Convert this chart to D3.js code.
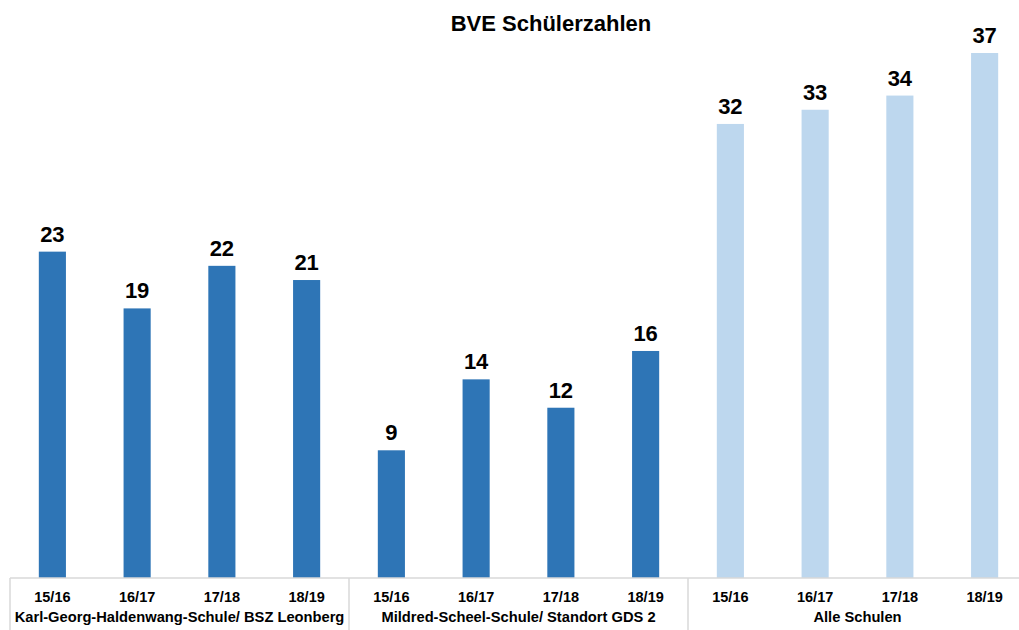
<!DOCTYPE html>
<html lang="de">
<head>
<meta charset="utf-8">
<title>BVE Schülerzahlen</title>
<script src="https://d3js.org/d3.v7.min.js"></script>
<style>
  body { margin: 0; background: #fff; }
  text { font-family: "Liberation Sans", Arial, sans-serif; font-weight: bold; fill: #000; }
</style>
</head>
<body>
<svg width="1019" height="630"></svg>
<script>
    // data
    const schools = ["Karl-Georg-Haldenwang-Schule/ BSZ Leonberg", "Mildred-Scheel-Schule/ Standort GDS 2", "Alle Schulen"];
    const years = ["15/16", "16/17", "17/18", "18/19"];
    const khs = [23, 19, 22, 21];
    const mss = [9, 14, 12, 16];
    const alle = [32, 33, 34, 37];
    const barColors = ["#2e75b6", "#2e75b6", "#bdd7ee"];

    const series = [khs, mss, alle];

    const svg = d3.select("svg");
    const baseY = 578;

    const x0 = d3.scaleBand().domain(schools).range([10, 1027]);
    const x1 = d3.scaleBand().domain(years).range([0, x0.bandwidth()]).paddingInner(0.68).paddingOuter(0.34);
    const y = d3.scaleLinear().domain([0, 37]).range([baseY, 53]);

    // title
    svg.append("text")
        .attr("x", 551)
        .attr("y", 31)
        .attr("text-anchor", "middle")
        .style("font-size", "22px")
        .text("BVE Schülerzahlen");

    const groups = svg.selectAll(".grp")
        .data(schools)
        .enter().append("g")
        .attr("class", "grp")
        .attr("transform", d => "translate(" + x0(d) + ",0)");

    groups.each(function (s, gi) {
        const g = d3.select(this);
        const vals = series[gi].map((v, i) => ({year: years[i], value: v}));

        g.selectAll("rect")
            .data(vals)
            .enter().append("rect")
            .attr("x", d => x1(d.year))
            .attr("width", x1.bandwidth())
            .attr("y", d => y(d.value))
            .attr("height", d => baseY - y(d.value))
            .attr("fill", barColors[gi]);

        g.selectAll(".val")
            .data(vals)
            .enter().append("text")
            .attr("class", "val")
            .attr("x", d => x1(d.year) + x1.bandwidth() / 2)
            .attr("y", d => y(d.value) - 10)
            .attr("text-anchor", "middle")
            .style("font-size", "22px")
            .text(d => d.value);

        g.selectAll(".yr")
            .data(years)
            .enter().append("text")
            .attr("class", "yr")
            .attr("x", d => x1(d) + x1.bandwidth() / 2)
            .attr("y", 602)
            .attr("text-anchor", "middle")
            .style("font-size", "14.5px")
            .text(d => d);

        g.append("text")
            .attr("x", x0.bandwidth() / 2)
            .attr("y", 622)
            .attr("text-anchor", "middle")
            .style("font-size", "14.7px")
            .text(s);
    });

    // axis line and group separators
    svg.append("line")
        .attr("x1", 10).attr("x2", 1019)
        .attr("y1", baseY).attr("y2", baseY)
        .attr("stroke", "#d9d9d9").attr("stroke-width", 1.5);

    svg.selectAll(".sep")
        .data(schools)
        .enter().append("line")
        .attr("class", "sep")
        .attr("x1", d => x0(d)).attr("x2", d => x0(d))
        .attr("y1", baseY).attr("y2", 630)
        .attr("stroke", "#d9d9d9").attr("stroke-width", 1.5);
</script>
</body>
</html>
